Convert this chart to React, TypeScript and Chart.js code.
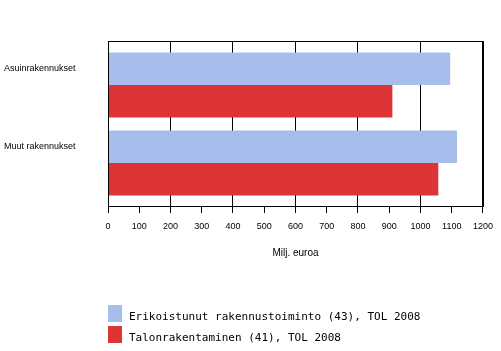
import React, { useEffect, useRef } from "react";
import { Chart, registerables } from "chart.js";

Chart.register(...registerables);

// ---- Data ----
const categories = ["Asuinrakennukset", "Muut rakennukset"];
const seriesNames = [
  "Erikoistunut rakennustoiminto (43), TOL 2008",
  "Talonrakentaminen (41), TOL 2008",
];
const erikoistunutValues = [1095, 1117];
const talonrakentaminenValues = [910, 1057];
const xTickStep = 100;
const xMin = 0;
const xMax = 1200;
const xTitle = "Milj. euroa";

const seriesColors = ["#A7BDEB", "#DD3436"];

const frameAndLegend = {
  id: "frameAndLegend",
  afterDraw(chart: any) {
    const ctx = chart.ctx as CanvasRenderingContext2D;
    const a = chart.chartArea;
    ctx.save();
    ctx.strokeStyle = "#000";
    ctx.lineWidth = 1;
    ctx.strokeRect(Math.round(a.left) + 0.5, Math.round(a.top) + 0.5, Math.round(a.right - a.left), Math.round(a.bottom - a.top));
    const boxX = a.left;
    const startY = 305;
    chart.data.datasets.forEach((ds: any, i: number) => {
      const y = startY + i * 21;
      ctx.fillStyle = ds.backgroundColor;
      ctx.fillRect(boxX, y, 14, 17);
      ctx.fillStyle = "#000";
      ctx.font = "11px 'DejaVu Sans Mono'";
      ctx.textBaseline = "alphabetic";
      ctx.textAlign = "left";
      ctx.fillText(ds.label, boxX + 21, y + 15);
    });
    ctx.restore();
  },
};

export default function App() {
  const ref = useRef<HTMLCanvasElement | null>(null);

  useEffect(() => {
    if (!ref.current) return;
    const font9 = { family: "'Liberation Sans', Arial, sans-serif", size: 9 };
    const chart = new Chart(ref.current, {
      type: "bar",
      data: {
        datasets: [
          {
            label: seriesNames[0],
            data: erikoistunutValues.map((v, i) => ({ x: v, y: i })),
            backgroundColor: seriesColors[0],
            borderWidth: 0,
          },
          {
            label: seriesNames[1],
            data: talonrakentaminenValues.map((v, i) => ({ x: v, y: i })),
            backgroundColor: seriesColors[1],
            borderWidth: 0,
          },
        ],
      } as any,
      options: {
        indexAxis: "y",
        animation: false,
        responsive: false,
        devicePixelRatio: 1,
        datasets: { bar: { barPercentage: 1, categoryPercentage: 0.8333, inflateAmount: 0 } } as any,
        layout: { padding: { left: 4, top: 41, right: 16, bottom: 89 } },
        plugins: { legend: { display: false }, tooltip: { enabled: false } },
        scales: {
          y: {
            type: "linear",
            reverse: true,
            offset: false,
            bounds: "data",
            min: -0.5641,
            max: 1.5513,
            afterBuildTicks: (s: any) => {
              s.ticks = categories.map((_, i) => ({ value: i }));
            },
            afterFit: (s: any) => {
              s.width = 104;
            },
            grid: { display: false, drawTicks: false, offset: false },
            border: { display: true, color: "#000", width: 1 },
            ticks: {
              autoSkip: false,
              crossAlign: "far",
              labelOffset: -16,
              color: "#000",
              font: font9,
              callback: (v: any) => categories[v as number] ?? "",
            },
          },
          x: {
            type: "linear",
            position: "bottom",
            min: xMin,
            max: xMax,
            afterFit: (s: any) => {
              s.height = 56;
            },
            ticks: {
              stepSize: xTickStep,
              autoSkip: false,
              maxRotation: 0,
              color: "#000",
              font: font9,
              padding: 8,
              callback: (v: any) => String(v),
            },
            grid: {
              color: (c: any) => (c.tick && c.tick.value % 200 === 0 ? "#000" : "rgba(0,0,0,0)"),
              tickColor: "#000",
              tickLength: 7,
              lineWidth: 1,
            },
            border: { color: "#000", width: 1 },
            title: {
              display: true,
              text: xTitle,
              color: "#000",
              font: { family: "'Liberation Sans', Arial, sans-serif", size: 10 },
              padding: { top: 0, bottom: 3 },
            },
          },
        },
      } as any,
      plugins: [frameAndLegend],
    });
    return () => chart.destroy();
  }, []);

  return (
    <div style={{ position: "absolute", left: 0, top: 0, width: 501, height: 351, background: "#fff" }}>
      <canvas ref={ref} width={501} height={351} style={{ display: "block" }} />
    </div>
  );
}
